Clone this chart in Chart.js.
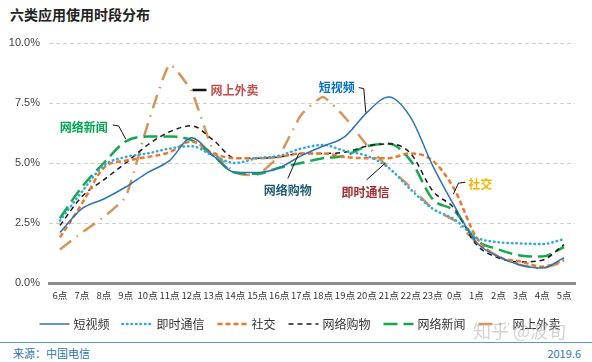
<!DOCTYPE html>
<html>
<head>
<meta charset="utf-8">
<script src="https://cdn.jsdelivr.net/npm/chart.js@4.4.1/dist/chart.umd.min.js"></script>
<style>
  html,body{margin:0;padding:0;background:#fff;}
  body{width:592px;height:362px;position:relative;overflow:hidden;font-family:"Noto Sans CJK SC","Noto Sans",sans-serif;}
  #title{position:absolute;left:10px;top:4px;font-size:14px;font-weight:bold;color:#222;}
  #wrap{position:absolute;left:0;top:0;width:592px;height:336px;}
  #rule{position:absolute;left:0;top:342px;width:592px;height:0;border-top:1.5px solid #5b9bd5;}
  #src{position:absolute;left:13px;top:345px;font-size:11px;color:#2e75b6;}
  #date{position:absolute;right:11px;top:345px;font-size:11px;color:#2e75b6;}
  #mark{position:absolute;right:26px;top:317px;font-size:18px;color:rgba(175,175,175,.55);}
</style>
</head>
<body>
<div id="title">六类应用使用时段分布</div>
<div id="wrap"><canvas id="c"></canvas></div>
<div id="rule"></div>
<div id="src">来源：中国电信</div>
<div id="date">2019.6</div>
<div id="mark">知乎 @波旬</div>
<script>
const hours=['6点','7点','8点','9点','10点','11点','12点','13点','14点','15点','16点','17点','18点','19点','20点','21点','22点','23点','0点','1点','2点','3点','4点','5点'];
const yTicks=[0,2.5,5,7.5,10];

const shortVideo=[2.1,3.1,3.5,4.0,4.6,5.1,6.05,5.3,4.6,4.6,4.8,5.3,5.7,6.1,7.1,7.75,6.9,4.9,3.2,1.7,1.1,0.75,0.62,1.05];
const instantMsg=[2.6,3.8,4.9,5.25,5.4,5.6,5.7,5.3,5.0,5.2,5.3,5.6,5.75,5.5,5.3,4.8,3.9,3.1,2.65,1.9,1.7,1.65,1.62,1.83];
const social=[1.9,3.3,4.8,5.1,5.25,5.45,5.9,5.4,5.2,5.2,5.25,5.4,5.4,5.25,5.2,5.2,5.4,5.1,3.9,1.9,1.1,0.9,0.68,0.95];
const shopping=[2.4,3.6,4.3,5.0,5.75,6.3,6.55,5.95,5.2,5.2,5.25,5.4,5.4,5.45,5.7,5.8,5.4,3.85,3.1,1.6,1.05,0.88,0.95,1.6];
const news=[2.7,4.0,5.0,5.9,6.1,6.1,5.95,5.3,4.6,4.55,4.8,5.0,5.2,5.3,5.7,5.8,5.1,3.5,3.0,1.8,1.4,1.15,1.1,1.5];
const takeout=[1.4,2.1,2.75,3.6,6.6,9.1,8.0,5.5,4.6,4.5,5.3,7.0,7.75,6.9,5.75,4.8,4.0,3.1,2.6,1.7,1.1,0.75,0.62,0.88];

// callout labels: anchor is [category index, value], offsets in px
const callouts=[
  {text:'网络新闻',color:'#00a650',at:[3.0,6.0],path:[[-13,-14],[-7,-13],[0,0]],tx:-18,ty:-12,align:'right',lw:1},
  {text:'网上外卖',color:'#c0504d',at:[6,8.0],path:[[1,-1],[15,-1]],tx:19,ty:-1,align:'left',lw:2.5},
  {text:'短视频',color:'#0070c0',at:[14,7.1],path:[[-8,-25],[-3,-24],[-1,0]],tx:-12,ty:-25,align:'right',lw:1},
  {text:'网络购物',color:'#1f5c73',at:[10.9,5.4],path:[[-11,25],[0,0]],tx:-11,ty:37,align:'center',lw:1},
  {text:'即时通信',color:'#a62b2e',at:[14.85,5.0],path:[[-19,17],[0,0]],tx:-20,ty:29,align:'center',lw:1},
  {text:'社交',color:'#f2b705',at:[17.95,3.7],path:[[0,0],[5,-11],[12,-12]],tx:15,ty:-10,align:'left',lw:1}
];

const calloutPlugin={
  id:'callouts',
  afterDatasetsDraw(chart){
    const {ctx,scales:{x,y}}=chart;
    ctx.save();
    callouts.forEach(c=>{
      const px=x.getPixelForValue(c.at[0]), py=y.getPixelForValue(c.at[1]);
      ctx.strokeStyle='#111'; ctx.lineWidth=c.lw; ctx.setLineDash([]);
      ctx.beginPath();
      c.path.forEach(([dx,dy],i)=>{ i?ctx.lineTo(px+dx,py+dy):ctx.moveTo(px+dx,py+dy); });
      ctx.stroke();
      ctx.font='bold 12px "Noto Sans CJK SC"';
      ctx.fillStyle=c.color; ctx.textAlign=c.align; ctx.textBaseline='middle';
      ctx.fillText(c.text,px+c.tx,py+c.ty);
    });
    ctx.restore();
  }
};

// legend drawn by hand so the dash patterns show in the samples
const legendPlugin={
  id:'lineLegend',
  afterDraw(chart){
    const {ctx}=chart;
    const sw=30, gap=4, itemGap=13, yMid=chart.chartArea.bottom+41;
    ctx.save();
    ctx.font='12px "Noto Sans CJK SC"';
    const sets=chart.data.datasets;
    const widths=sets.map(d=>sw+gap+ctx.measureText(d.label).width);
    const total=widths.reduce((a,b)=>a+b,0)+itemGap*(sets.length-1);
    let x=(chart.width-total)/2+4;
    sets.forEach((d,i)=>{
      ctx.strokeStyle=d.borderColor; ctx.lineWidth=d.borderWidth;
      ctx.lineCap=d.borderCapStyle||'butt'; ctx.setLineDash(d.borderDash||[]);
      ctx.beginPath(); ctx.moveTo(x,yMid); ctx.lineTo(x+sw,yMid); ctx.stroke();
      ctx.fillStyle='#333'; ctx.textAlign='left'; ctx.textBaseline='middle';
      ctx.fillText(d.label,x+sw+gap,yMid);
      x+=widths[i]+itemGap;
    });
    ctx.restore();
  }
};

function line(label,data,color,width,dash,extra){
  return Object.assign({label,data,borderColor:color,backgroundColor:color,borderWidth:width,borderDash:dash,
    pointRadius:0,fill:false,tension:0.4,cubicInterpolationMode:'monotone'},extra||{});
}

new Chart(document.getElementById('c'),{
  type:'line',
  data:{labels:hours,datasets:[
    line('短视频',shortVideo,'#2e75b6',1.5,[]),
    line('即时通信',instantMsg,'#35a8d8',2.5,[0.5,4],{borderCapStyle:'round'}),
    line('社交',social,'#e87a2e',2.5,[5,3]),
    line('网络购物',shopping,'#1a1a1a',1.5,[5,4]),
    line('网络新闻',news,'#17a84f',2.5,[14,6]),
    line('网上外卖',takeout,'#d6955b',2.5,[14,7,1.5,7],{tension:0.15,cubicInterpolationMode:'default'})
  ]},
  options:{
    responsive:true,maintainAspectRatio:false,animation:false,
    layout:{padding:{top:43,right:17,bottom:29,left:0}},
    plugins:{
      legend:{display:false},
      tooltip:{enabled:false}
    },
    scales:{
      x:{
        offset:true,
        grid:{display:false,drawTicks:false},
        border:{color:'#8c8c8c',width:3},
        ticks:{autoSkip:false,maxRotation:0,padding:7,color:'#333',font:{size:9.5,family:'"Noto Sans CJK SC"'}},
        afterFit:s=>{s.height=24;}
      },
      y:{
        min:0,max:10,
        afterBuildTicks:s=>{s.ticks=yTicks.map(v=>({value:v}));},
        grid:{color:c=>c.tick.value===0?'rgba(0,0,0,0)':'#cfcfcf',lineWidth:1,drawTicks:false},
        border:{display:false,dash:[4,3]},
        ticks:{padding:9,color:'#404040',font:{size:11,family:'"Liberation Sans"'},callback:v=>v.toFixed(1)+'%'},
        afterFit:s=>{s.width=49;}
      }
    }
  },
  plugins:[calloutPlugin,legendPlugin]
});
</script>
</body>
</html>
